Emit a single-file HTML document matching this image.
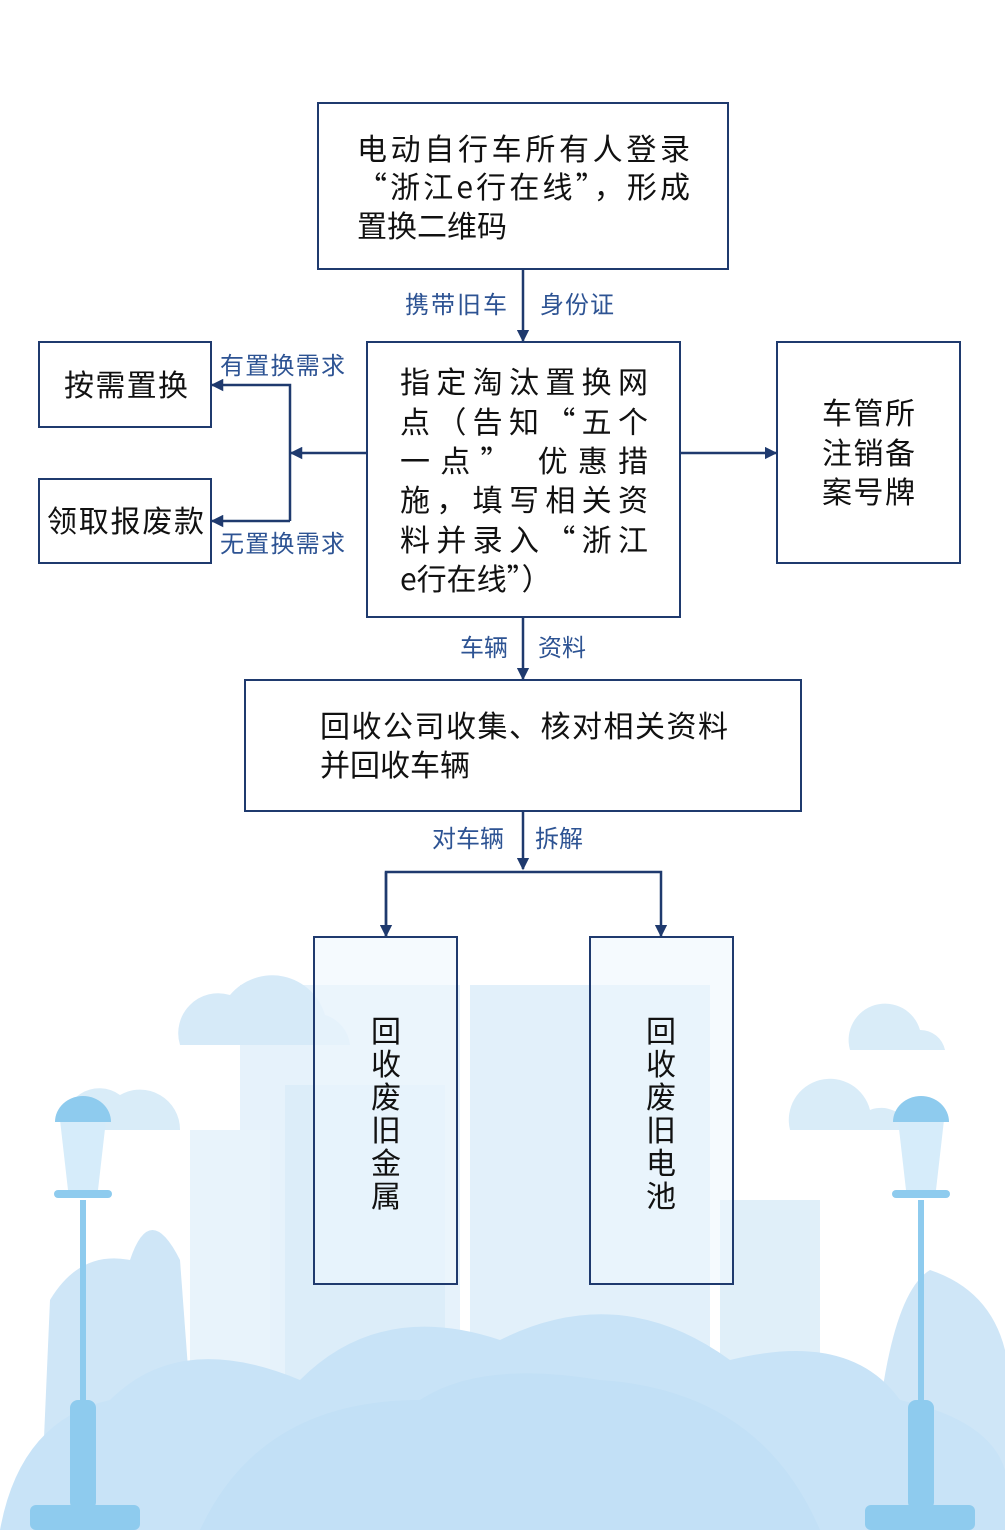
<!DOCTYPE html>
<html><head><meta charset="utf-8"><style>
html,body{margin:0;padding:0;background:#fff}
svg{display:block}
text{font-family:"Noto Sans CJK SC","Liberation Sans",sans-serif}
</style></head><body>
<svg width="1005" height="1530" viewBox="0 0 1005 1530" xmlns="http://www.w3.org/2000/svg">
<defs>
<marker id="a" viewBox="0 0 10 10" refX="9" refY="5" markerWidth="5" markerHeight="5" orient="auto"><path d="M0,0L10,5L0,10z" fill="#1f3a6e"/></marker>
</defs>
<g>
<rect x="240" y="985" width="220" height="545" fill="#e6f2fb"/>
<rect x="470" y="985" width="240" height="545" fill="#e2f0fa"/>
<rect x="285" y="1085" width="160" height="445" fill="#dcedf9"/>
<rect x="720" y="1200" width="100" height="330" fill="#e0eff9"/>
<rect x="190" y="1130" width="80" height="400" fill="#e8f3fb"/>
<path d="M180,1045 a40,40 0 0 1 50,-50 a55,55 0 0 1 95,20 a35,35 0 0 1 25,30z" fill="#d6eaf8"/>
<path d="M65,1130 a35,35 0 0 1 55,-35 a40,40 0 0 1 60,35z" fill="#d9ecf8"/>
<path d="M850,1050 a35,35 0 0 1 70,-20 a25,25 0 0 1 25,20z" fill="#d9ecf8"/>
<path d="M790,1130 a40,40 0 0 1 80,-20 a30,30 0 0 1 40,20z" fill="#d9ecf8"/>
<path d="M40,1530 L50,1300 Q80,1250 130,1260 Q150,1200 180,1260 L200,1530z" fill="#cfe6f7"/>
<path d="M870,1530 Q880,1300 930,1270 Q990,1290 1005,1350 L1005,1530z" fill="#cfe6f7"/>
<path d="M0,1530 Q20,1420 110,1400 Q180,1330 300,1380 Q380,1300 500,1340 Q620,1280 730,1360 Q850,1330 900,1400 Q990,1420 1005,1470 L1005,1530z" fill="#c8e3f7"/>
<path d="M200,1530 Q260,1400 420,1400 Q480,1360 600,1380 Q760,1390 820,1530z" fill="#c2e0f6"/>
<g fill="#8ecbee">
<rect x="80" y="1200" width="6" height="260"/>
<rect x="54" y="1190" width="58" height="8" rx="4"/>
<path d="M60,1120 L106,1120 L98,1190 L68,1190z" fill="#d6ecfa"/>
<path d="M55,1122 a28,26 0 0 1 56,0z"/>
<rect x="70" y="1400" width="26" height="110" rx="8"/>
<rect x="30" y="1505" width="110" height="25" rx="6"/>
<rect x="918" y="1200" width="6" height="260"/>
<rect x="892" y="1190" width="58" height="8" rx="4"/>
<path d="M898,1120 L944,1120 L936,1190 L906,1190z" fill="#d6ecfa"/>
<path d="M893,1122 a28,26 0 0 1 56,0z"/>
<rect x="908" y="1400" width="26" height="110" rx="8"/>
<rect x="865" y="1505" width="110" height="25" rx="6"/>
</g>
</g>
<g fill="none" stroke="#1f3a6e" stroke-width="2">
<rect x="318" y="103" width="410" height="166" fill="#fff"/>
<rect x="367" y="342" width="313" height="275" fill="#fff"/>
<rect x="39" y="342" width="172" height="85" fill="#fff"/>
<rect x="39" y="479" width="172" height="84" fill="#fff"/>
<rect x="777" y="342" width="183" height="221" fill="#fff"/>
<rect x="245" y="680" width="556" height="131" fill="#fff"/>
<rect x="314" y="937" width="143" height="347" fill="#eef6fd" fill-opacity="0.6"/>
<rect x="590" y="937" width="143" height="347" fill="#eef6fd" fill-opacity="0.6"/>
<g stroke-width="2.5">
<line x1="523" y1="269" x2="523" y2="341" marker-end="url(#a)"/>
<line x1="367" y1="453" x2="291" y2="453" marker-end="url(#a)"/>
<polyline points="290,521 290,385 212,385" marker-end="url(#a)"/>
<line x1="290" y1="521" x2="212" y2="521" marker-end="url(#a)"/>
<line x1="680" y1="453" x2="776" y2="453" marker-end="url(#a)"/>
<line x1="523" y1="617" x2="523" y2="679" marker-end="url(#a)"/>
<line x1="523" y1="811" x2="523" y2="869" marker-end="url(#a)"/>
<polyline points="386,936 386,872 661,872 661,936" marker-end="url(#a)"/>
</g>
</g>
<line x1="386" y1="872" x2="386" y2="936" stroke="#1f3a6e" stroke-width="2.5" marker-end="url(#a)"/>
<g font-size="30" fill="#111">
<text x="357" y="160" textLength="333" lengthAdjust="spacing">电动自行车所有人登录</text>
<text x="357" y="198" textLength="333" lengthAdjust="spacing">“浙江e行在线”，形成</text>
<text x="357" y="237">置换二维码</text>
<text x="400" y="393" textLength="248" lengthAdjust="spacing">指定淘汰置换网</text>
<text x="400" y="433" textLength="248" lengthAdjust="spacing">点（告知“五个</text>
<text x="400" y="472" textLength="248" lengthAdjust="spacing">一点” 优惠措</text>
<text x="400" y="511" textLength="248" lengthAdjust="spacing">施，填写相关资</text>
<text x="400" y="551" textLength="248" lengthAdjust="spacing">料并录入“浙江</text>
<text x="400" y="590">e行在线”）</text>
<text x="64" y="396" textLength="124">按需置换</text>
<text x="47" y="532" textLength="157">领取报废款</text>
<text x="822" y="424" textLength="93">车管所</text>
<text x="822" y="464" textLength="93">注销备</text>
<text x="822" y="503" textLength="93">案号牌</text>
<text x="320" y="737" textLength="408" lengthAdjust="spacing">回收公司收集、核对相关资料</text>
<text x="320" y="776">并回收车辆</text>
<g text-anchor="middle">
<text x="386" y="1042">回</text><text x="386" y="1075">收</text><text x="386" y="1108">废</text><text x="386" y="1141">旧</text><text x="386" y="1174">金</text><text x="386" y="1207">属</text>
<text x="661" y="1042">回</text><text x="661" y="1075">收</text><text x="661" y="1108">废</text><text x="661" y="1141">旧</text><text x="661" y="1174">电</text><text x="661" y="1207">池</text>
</g>
</g>
<g font-size="24" fill="#2d5393">
<text x="405" y="313" textLength="102">携带旧车</text>
<text x="540" y="313" textLength="74">身份证</text>
<text x="220" y="374" textLength="125">有置换需求</text>
<text x="220" y="552" textLength="125">无置换需求</text>
<text x="460" y="656">车辆</text>
<text x="538" y="656">资料</text>
<text x="432" y="847">对车辆</text>
<text x="535" y="847">拆解</text>
</g>
</svg>
</body></html>
